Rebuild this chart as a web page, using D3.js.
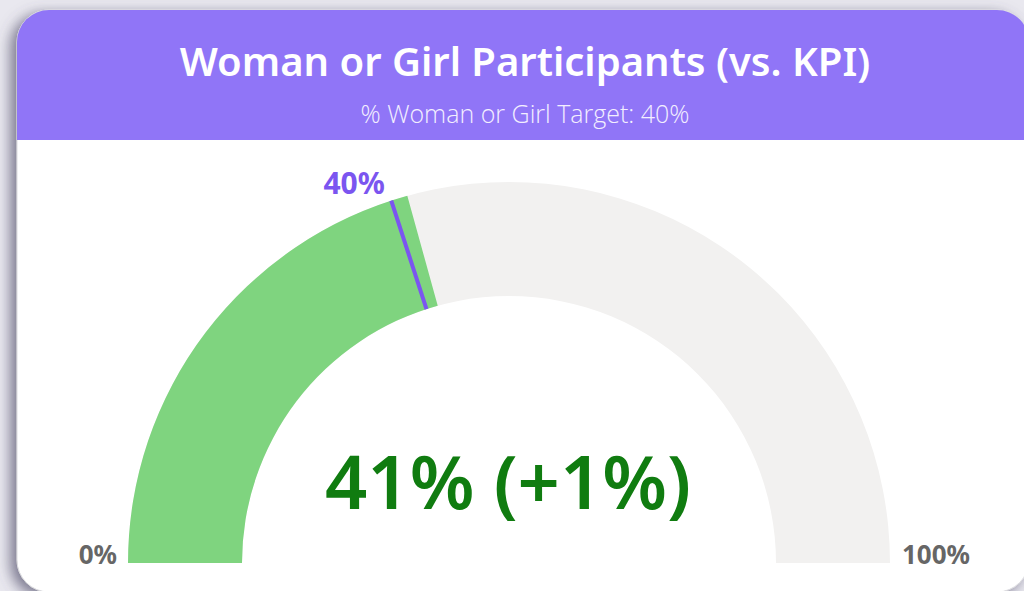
<!DOCTYPE html>
<html>
<head>
<meta charset="utf-8">
<script src="https://cdn.jsdelivr.net/npm/d3@7"></script>
<style>
  html, body { margin: 0; padding: 0; background: #e9e8ef; overflow: hidden; }
  #chart { width: 1024px; height: 591px; }
</style>
</head>
<body>
<div id="chart"></div>
<script>
// gauge data
const title = 'Woman or Girl Participants (vs. KPI)'
const subtitle = '% Woman or Girl Target: 40%'
const actual = [41.4]
const target = [40]
const delta = [1]
const rangeLabels = ['0%', '100%']
const domain = [0, 100]

const W = 1024
const H = 591

const headerColor = '#9075f7'
const fillColor = '#7fd47f'
const trackColor = '#f2f1f0'
const targetColor = '#7b55f0'
const valueColor = '#107c10'
const labelColor = '#666666'
const font = '"Segoe UI", "Noto Sans", "Open Sans", sans-serif'
const fmt = d3.format('.0f')

const svg = d3.select('#chart')
  .append('svg')
  .attr('width', W)
  .attr('height', H)

// card geometry (runs past the right/bottom edge of the window)
const cardX = 17
const cardY = 10
const cardW = 1012
const cardH = 582
const cardR = 32

const defs = svg.append('defs')
const shadow = defs.append('filter')
  .attr('id', 'shadow')
  .attr('x', '-10%').attr('y', '-10%')
  .attr('width', '120%').attr('height', '120%')
shadow.append('feDropShadow')
  .attr('dx', -6).attr('dy', 4)
  .attr('stdDeviation', 7)
  .attr('flood-color', '#4e4a66')
  .attr('flood-opacity', 0.7)

defs.append('clipPath').attr('id', 'cardClip')
  .append('rect')
  .attr('x', cardX).attr('y', cardY)
  .attr('width', cardW).attr('height', cardH)
  .attr('rx', cardR).attr('ry', cardR)

svg.append('rect')
  .attr('x', cardX).attr('y', cardY)
  .attr('width', cardW).attr('height', cardH)
  .attr('rx', cardR).attr('ry', cardR)
  .style('fill', '#fff')
  .style('stroke', '#dcdce0')
  .style('stroke-width', 1)
  .attr('filter', 'url(#shadow)')

const card = svg.append('g').attr('clip-path', 'url(#cardClip)')

// header band
card.append('rect')
  .attr('x', cardX).attr('y', cardY)
  .attr('width', cardW).attr('height', 130)
  .style('fill', headerColor)

card.append('text')
  .attr('x', 525).attr('y', 76)
  .attr('text-anchor', 'middle')
  .style('font-family', font)
  .style('font-weight', 600)
  .style('font-size', '40px')
  .style('fill', '#fff')
  .text(title)

card.append('text')
  .attr('x', 525).attr('y', 123)
  .attr('text-anchor', 'middle')
  .style('font-family', '"Segoe UI Light", "Open Sans", "Noto Sans", sans-serif')
  .style('font-weight', 300)
  .style('font-size', '25px')
  .style('fill', '#f3efff')
  .text(subtitle)

// gauge
const cx = 509
const cy = 563
const outerR = 381
const innerR = 267

const angle = d3.scaleLinear()
  .domain(domain)
  .range([-Math.PI / 2, Math.PI / 2])

const arc = d3.arc()
  .innerRadius(innerR)
  .outerRadius(outerR)

const gauge = card.append('g')
  .attr('transform', 'translate(' + cx + ',' + cy + ')')

gauge.append('path')
  .attr('d', arc({ startAngle: angle(domain[0]), endAngle: angle(domain[1]) }))
  .style('fill', trackColor)

gauge.append('path')
  .attr('d', arc({ startAngle: angle(domain[0]), endAngle: angle(actual[0]) }))
  .style('fill', fillColor)

// target marker
const ta = angle(target[0])
gauge.append('line')
  .attr('x1', Math.sin(ta) * innerR)
  .attr('y1', -Math.cos(ta) * innerR)
  .attr('x2', Math.sin(ta) * outerR)
  .attr('y2', -Math.cos(ta) * outerR)
  .style('stroke', targetColor)
  .style('stroke-width', 4)

gauge.append('text')
  .attr('x', Math.sin(ta) * (outerR + 8) - 4)
  .attr('y', -Math.cos(ta) * (outerR + 8) + 1)
  .attr('text-anchor', 'end')
  .style('font-family', font)
  .style('font-weight', 700)
  .style('font-size', '30px')
  .style('fill', targetColor)
  .text(target[0] + '%')

// range labels
gauge.append('text')
  .attr('x', -outerR - 11)
  .attr('y', 1)
  .attr('text-anchor', 'end')
  .style('font-family', font)
  .style('font-weight', 700)
  .style('font-size', '26px')
  .style('fill', labelColor)
  .text(rangeLabels[0])

gauge.append('text')
  .attr('x', outerR + 12)
  .attr('y', 1)
  .attr('text-anchor', 'start')
  .style('font-family', font)
  .style('font-weight', 700)
  .style('font-size', '26px')
  .style('fill', labelColor)
  .text(rangeLabels[1])

// centre value
gauge.append('text')
  .attr('x', -1)
  .attr('y', -54)
  .attr('text-anchor', 'middle')
  .style('font-family', font)
  .style('font-weight', 600)
  .style('font-size', '74px')
  .style('fill', valueColor)
  .text(fmt(actual[0]) + '% (+' + delta[0] + '%)')
</script>
</body>
</html>
